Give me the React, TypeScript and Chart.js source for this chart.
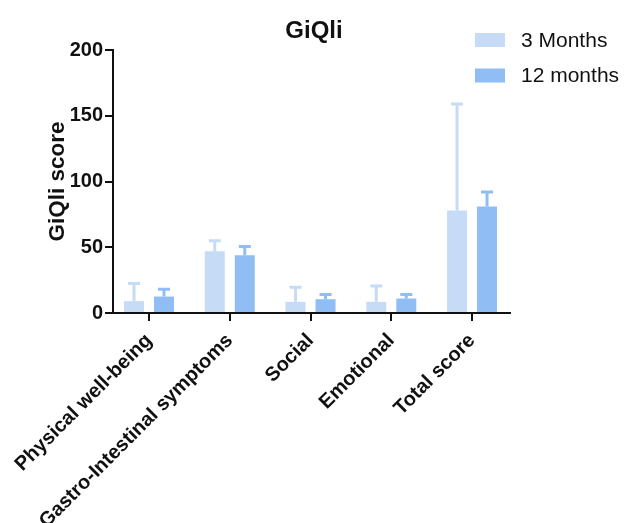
import React, { useEffect, useRef } from "react";
import { Chart, registerables } from "chart.js";

Chart.register(...registerables);

const categories = [
  "Physical well-being",
  "Gastro-Intestinal symptoms",
  "Social",
  "Emotional",
  "Total score",
];
const seriesNames = ["3 Months", "12 months"];
const months3 = [9, 47, 8.5, 8.5, 78];
const months3Err = [13.5, 8, 11, 12, 81];
const months12 = [12.5, 44, 10.5, 11, 81];
const months12Err = [5.5, 6.5, 3.5, 3, 11];
const yTicks = [0, 50, 100, 150, 200];
const titleText = "GiQli";
const yTitle = "GiQli score";

const FONT = "'Liberation Sans', Arial, Helvetica, sans-serif";
const LIGHT = "#c6dcf6";
const DARK = "#90bdf4";

const errorBarPlugin = {
  id: "errorBars",
  afterDatasetsDraw(chart: any) {
    const ctx = chart.ctx;
    const y = chart.scales.y;
    chart.data.datasets.forEach((ds: any, i: number) => {
      const meta = chart.getDatasetMeta(i);
      meta.data.forEach((bar: any, j: number) => {
        const top = y.getPixelForValue(ds.data[j].y + ds.errors[j]);
        ctx.save();
        ctx.strokeStyle = ds.backgroundColor;
        ctx.lineWidth = 3;
        ctx.beginPath();
        ctx.moveTo(bar.x, bar.y);
        ctx.lineTo(bar.x, top);
        ctx.moveTo(bar.x - 6, top);
        ctx.lineTo(bar.x + 6, top);
        ctx.stroke();
        ctx.restore();
      });
    });
  },
};

const decorPlugin = {
  id: "decor",
  afterDraw(chart: any) {
    const ctx = chart.ctx;
    ctx.save();
    ctx.fillStyle = "#111";
    ctx.font = `bold 24px ${FONT}`;
    ctx.textAlign = "center";
    ctx.textBaseline = "middle";
    ctx.fillText(titleText, 314, 31);
    ctx.font = `21px ${FONT}`;
    ctx.textAlign = "left";
    chart.data.datasets.forEach((ds: any, i: number) => {
      const cy = 40 + i * 35.5;
      ctx.fillStyle = ds.backgroundColor;
      ctx.fillRect(475, cy - 7, 30, 14);
      ctx.fillStyle = "#111";
      ctx.fillText(ds.label, 521, cy + 1);
    });
    ctx.restore();
  },
};

export default function App() {
  const ref = useRef<HTMLCanvasElement>(null);
  useEffect(() => {
    if (!ref.current) return;
    const toPoints = (vals: number[]) => vals.map((v, i) => ({ x: i, y: v }));
    const chart = new Chart(ref.current, {
      type: "bar",
      data: {
        datasets: [
          {
            label: seriesNames[0],
            data: toPoints(months3),
            errors: months3Err,
            backgroundColor: LIGHT,
            categoryPercentage: 0.743,
            barPercentage: 0.667,
          } as any,
          {
            label: seriesNames[1],
            data: toPoints(months12),
            errors: months12Err,
            backgroundColor: DARK,
            categoryPercentage: 0.743,
            barPercentage: 0.667,
          } as any,
        ],
      },
      options: {
        animation: false,
        responsive: true,
        maintainAspectRatio: false,
        layout: { padding: { top: 50, right: 120, left: 0, bottom: 0 } },
        plugins: {
          legend: { display: false },
          title: { display: false },
          tooltip: { enabled: false },
        },
        scales: {
          x: {
            type: "linear",
            offset: false,
            min: -0.446,
            max: 4.47,
            afterFit: (s: any) => {
              s.height = 210;
            },
            afterBuildTicks: (s: any) => {
              s.ticks = categories.map((_, i) => ({ value: i }));
            },
            grid: {
              offset: false,
              drawOnChartArea: false,
              drawTicks: true,
              tickLength: 8,
              color: "#111",
              lineWidth: 2,
            },
            border: { display: true, color: "#111", width: 2 },
            ticks: {
              color: "#111",
              font: { family: FONT, size: 20, weight: "bold" },
              minRotation: 45,
              maxRotation: 45,
              autoSkip: false,
              padding: 8,
              callback: (v: any) => categories[Math.round(Number(v))] ?? "",
            },
          },
          y: {
            min: 0,
            max: 200,
            afterFit: (s: any) => {
              s.width = 113;
            },
            afterBuildTicks: (s: any) => {
              s.ticks = yTicks.map((v) => ({ value: v }));
            },
            grid: {
              drawOnChartArea: false,
              drawTicks: true,
              tickLength: 8,
              color: "#111",
              lineWidth: 2,
            },
            border: { display: true, color: "#111", width: 2 },
            ticks: {
              color: "#111",
              font: { family: FONT, size: 20, weight: "bold" },
              padding: 2,
            },
            title: {
              display: true,
              text: yTitle,
              color: "#111",
              font: { family: FONT, size: 22.5, weight: "bold" },
              padding: { top: 44, bottom: 0 },
            },
          },
        },
      },
      plugins: [errorBarPlugin, decorPlugin],
    });
    return () => chart.destroy();
  }, []);
  return (
    <div style={{ position: "fixed", left: 0, top: 0, width: 630, height: 523, background: "#fff" }}>
      <canvas ref={ref} />
    </div>
  );
}
